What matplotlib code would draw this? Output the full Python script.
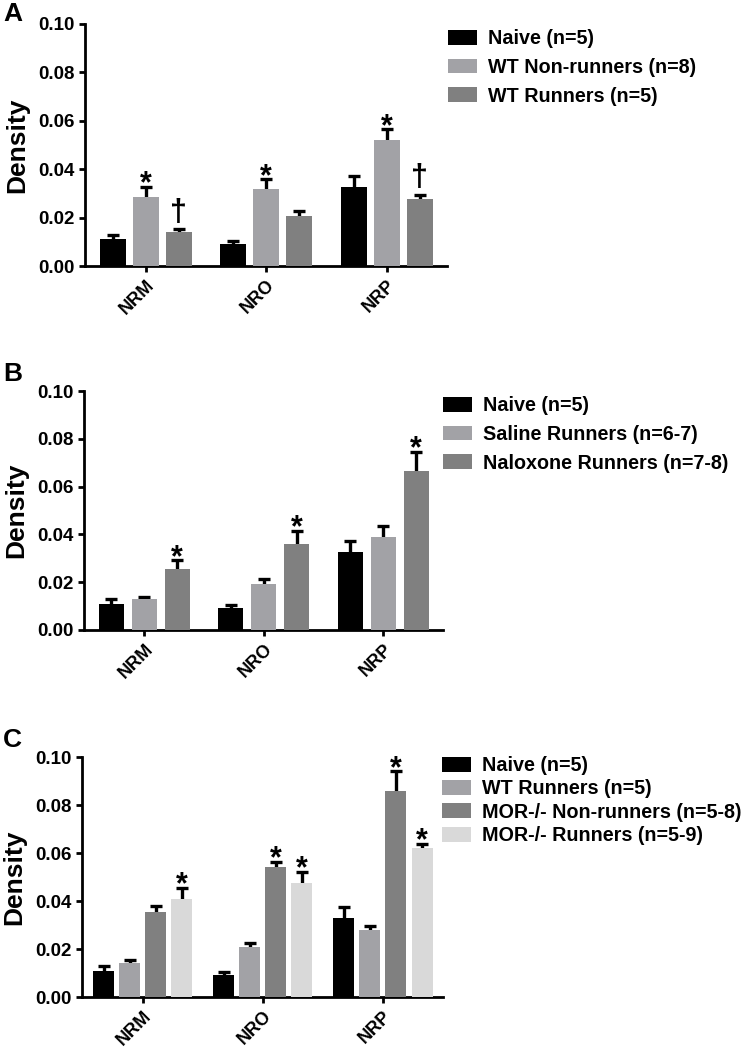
import numpy as np
import matplotlib.pyplot as plt

plt.rcParams['font.family'] = ['Liberation Sans', 'DejaVu Sans']
plt.rcParams['font.weight'] = 'bold'

regions = ['NRM', 'NRO', 'NRP']

# panel A
naive = [0.011, 0.009, 0.0328]
naive_err = [0.002, 0.0015, 0.0045]
wt_nonrun = [0.0286, 0.0318, 0.052]
wt_nonrun_err = [0.0042, 0.004, 0.0045]
wt_run = [0.014, 0.0207, 0.0278]
wt_run_err = [0.0013, 0.0019, 0.0017]

# panel B
saline_run = [0.013, 0.0191, 0.0389]
saline_run_err = [0.0009, 0.0021, 0.0047]
nalox_run = [0.0254, 0.0359, 0.0667]
nalox_run_err = [0.0038, 0.0056, 0.0078]

# panel C
mor_nonrun = [0.0353, 0.0543, 0.0858]
mor_nonrun_err = [0.0027, 0.0021, 0.0082]
mor_run = [0.0408, 0.0473, 0.0622]
mor_run_err = [0.0046, 0.0049, 0.0017]

BLACK = '#000000'
GREY = '#a2a2a6'
DARK = '#808080'
LIGHT = '#d9d9d9'

W, H = 751, 1050
fig = plt.figure(figsize=(W / 100, H / 100), dpi=100)


def px_axes(left, right, top, bottom):
    return fig.add_axes([left / W, 1 - bottom / H, (right - left) / W, (bottom - top) / H])


def panel(ax, series, step, width, marks):
    x = np.arange(len(regions))
    n = len(series)
    for i, (vals, err, col, lab) in enumerate(series):
        xs = x + (i - (n - 1) / 2) * step
        ax.bar(xs, vals, width=width, color=col, label=lab, zorder=3)
        # symmetric bars drawn behind, so only the upper half shows
        ax.errorbar(xs, vals, yerr=err, fmt='none', ecolor='black',
                    elinewidth=2.4, capsize=4.5, capthick=2.4, zorder=2)
        for j, m in enumerate(marks[i]):
            if m == '*':
                ax.annotate('*', (xs[j], vals[j] + err[j]), xytext=(0, -4), textcoords='offset points',
                            ha='center', va='baseline', fontsize=22, fontweight='bold')
            elif m == '†':
                ax.annotate('†', (xs[j], vals[j] + err[j]), xytext=(0, 6), textcoords='offset points',
                            ha='center', va='baseline', fontsize=22, fontweight='bold')
    ax.set_xlim(-0.505, 2.5)
    ax.set_ylim(0, 0.1)
    ax.set_yticks([0, 0.02, 0.04, 0.06, 0.08, 0.10])
    ax.set_yticklabels(['0.00', '0.02', '0.04', '0.06', '0.08', '0.10'])
    ax.set_xticks(x)
    ax.set_xticklabels(regions, rotation=45, ha='right', va='top', rotation_mode='anchor')
    for s in ['top', 'right']:
        ax.spines[s].set_visible(False)
    for s in ['left', 'bottom']:
        ax.spines[s].set_linewidth(2)
    ax.tick_params(width=2, length=4.5, labelsize=13.5, pad=3)
    ax.tick_params(axis='x', pad=3, labelsize=13)
    ax.set_ylabel('Density', fontsize=19, fontweight='bold')
    ax.yaxis.set_label_coords(-0.155, 0.5)


# A
axA = px_axes(85, 447, 24, 266)
panel(axA, [(naive, naive_err, BLACK, 'Naive (n=5)'),
            (wt_nonrun, wt_nonrun_err, GREY, 'WT Non-runners (n=8)'),
            (wt_run, wt_run_err, DARK, 'WT Runners (n=5)')],
      0.274, 0.216, [['', '', ''], ['*', '*', '*'], ['†', '', '†']])

# B
axB = px_axes(84, 443, 391, 630)
panel(axB, [(naive, naive_err, BLACK, 'Naive (n=5)'),
            (saline_run, saline_run_err, GREY, 'Saline Runners (n=6-7)'),
            (nalox_run, nalox_run_err, DARK, 'Naloxone Runners (n=7-8)')],
      0.276, 0.21, [['', '', ''], ['', '', ''], ['*', '*', '*']])

# C
axC = px_axes(82, 443, 757, 997)
panel(axC, [(naive, naive_err, BLACK, 'Naive (n=5)'),
            (wt_run, wt_run_err, GREY, 'WT Runners (n=5)'),
            (mor_nonrun, mor_nonrun_err, DARK, 'MOR-/- Non-runners (n=5-8)'),
            (mor_run, mor_run_err, LIGHT, 'MOR-/- Runners (n=5-9)')],
      0.217, 0.175, [['', '', ''], ['', '', ''], ['', '*', '*'], ['*', '*', '*']])

for ax, lx, ty, sp in [(axA, 448, 29, 0.5), (axB, 443, 396, 0.5), (axC, 442, 756, 0.22)]:
    ax.legend(loc='upper left', bbox_to_anchor=(lx / W, 1 - ty / H), bbox_transform=fig.transFigure,
              frameon=False, fontsize=14.2, handlelength=1.45, handleheight=0.78, handletextpad=0.6,
              labelspacing=sp, borderpad=0, borderaxespad=0)

fig.text(3 / W, 1 - 2 / H, 'A', fontsize=19, fontweight='bold', ha='left', va='top')
fig.text(3 / W, 1 - 362 / H, 'B', fontsize=19, fontweight='bold', ha='left', va='top')
fig.text(3 / W, 1 - 728 / H, 'C', fontsize=19, fontweight='bold', ha='left', va='top')

fig.savefig('out.png', dpi=100)
